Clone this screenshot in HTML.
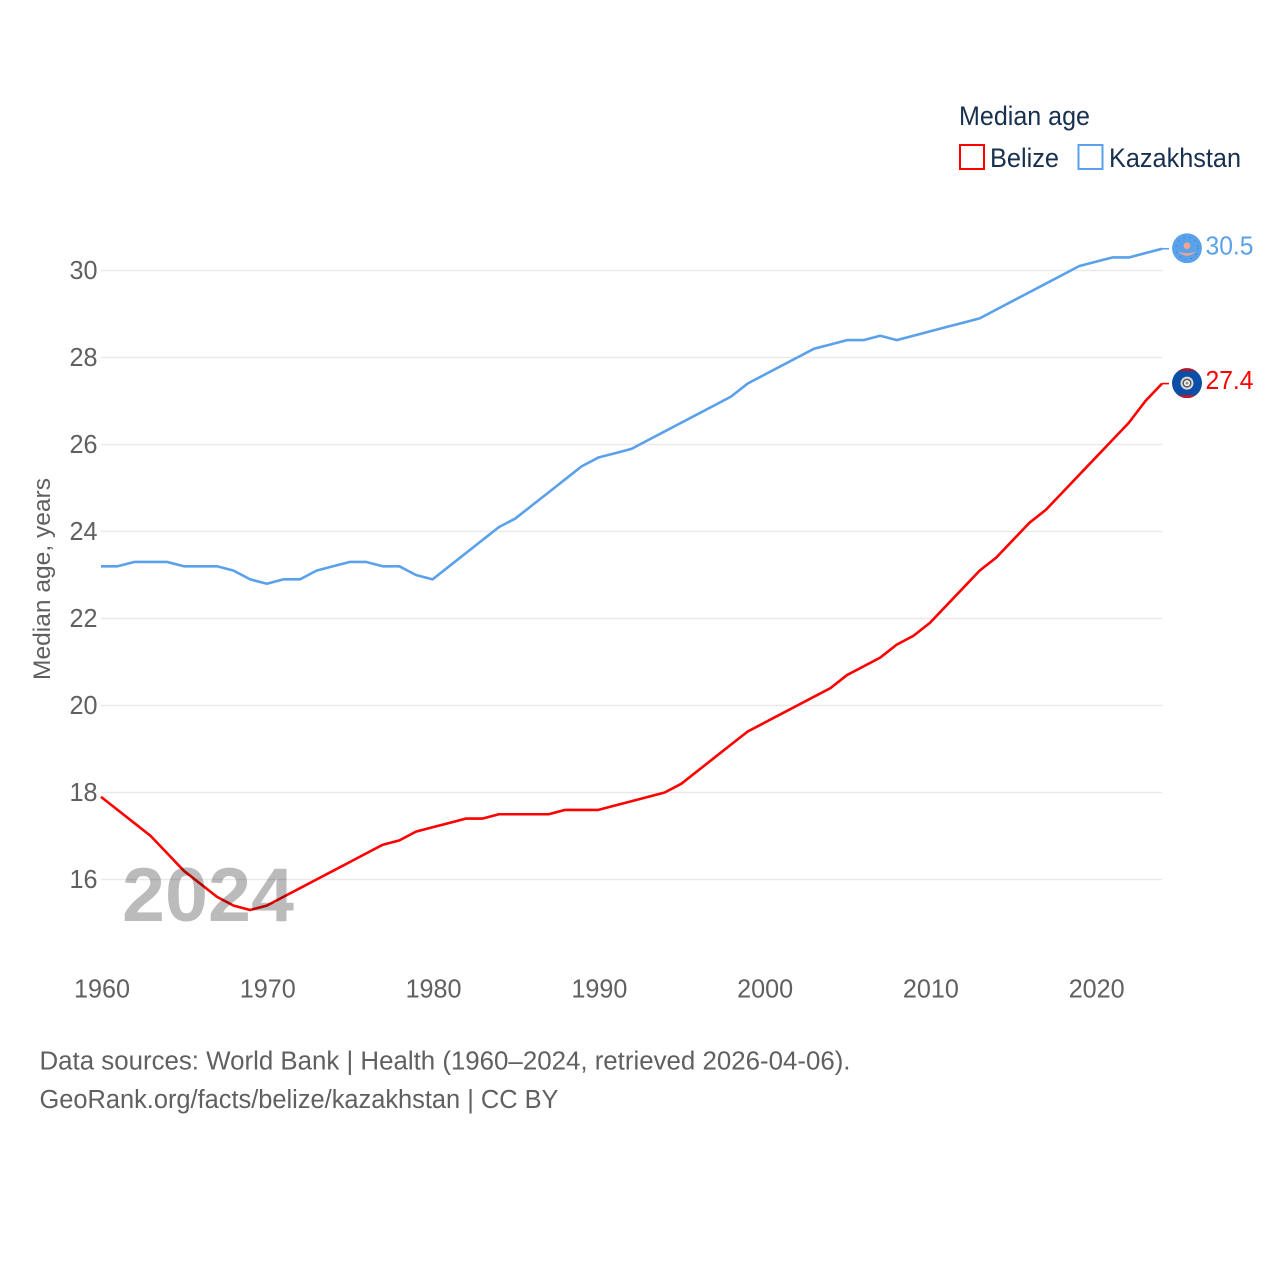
<!DOCTYPE html>
<html lang="en">
<head>
<meta charset="utf-8">
<title>Median age: Belize and Kazakhstan</title>
<style>
html,body{margin:0;padding:0;background:#fff;}
svg{display:block;font-family:"Liberation Sans",sans-serif;}
</style>
</head>
<body>
<svg id="chart" xmlns="http://www.w3.org/2000/svg" width="1280" height="1280" viewBox="0 0 1280 1280">
  <defs>
    <clipPath id="flag-clip"><circle r="15" cx="0" cy="0"/></clipPath>
  </defs>
  <rect x="0" y="0" width="1280" height="1280" fill="#ffffff"/>
  <g id="grid"></g>
  <g id="yticks"></g>
  <g id="xticks"></g>
  <text transform="translate(50,680) rotate(-90)" font-size="24" fill="#606060" textLength="202" lengthAdjust="spacingAndGlyphs">Median age, years</text>
  <g id="series"></g>
  <text id="year-label" x="122" y="921" font-size="76" font-weight="700" fill="#000000" fill-opacity="0.267" textLength="172" lengthAdjust="spacingAndGlyphs">2024</text>
  <g id="ends"></g>
  <g>
    <text x="959" y="125" font-size="26.500" fill="#18304f" textLength="131" lengthAdjust="spacingAndGlyphs">Median age</text>
    <g>
      <rect x="960" y="145" width="24" height="24" fill="#ffffff" stroke="#ff0000" stroke-width="2"/>
      <text x="990" y="167" font-size="26.500" fill="#18304f" textLength="69" lengthAdjust="spacingAndGlyphs">Belize</text>
    </g>
    <g>
      <rect x="1078.500" y="145" width="24" height="24" fill="#ffffff" stroke="#5aa1ec" stroke-width="2"/>
      <text x="1109" y="167" font-size="26.500" fill="#18304f" textLength="132" lengthAdjust="spacingAndGlyphs">Kazakhstan</text>
    </g>
  </g>
  <g>
    <text x="39.500" y="1069.500" font-size="25.500" fill="#606060" textLength="811" lengthAdjust="spacingAndGlyphs">Data sources: World Bank | Health (1960–2024, retrieved 2026-04-06).</text>
    <text x="39.500" y="1108" font-size="25.500" fill="#606060" textLength="519" lengthAdjust="spacingAndGlyphs">GeoRank.org/facts/belize/kazakhstan | CC BY</text>
  </g>
</svg>
<script>
const startYear = 1960;
const belizeValues = [17.9,17.6,17.3,17.0,16.6,16.2,15.9,15.6,15.4,15.3,15.4,15.6,15.8,16.0,16.2,16.4,16.6,16.8,16.9,17.1,17.2,17.3,17.4,17.4,17.5,17.5,17.5,17.5,17.6,17.6,17.6,17.7,17.8,17.9,18.0,18.2,18.5,18.8,19.1,19.4,19.6,19.8,20.0,20.2,20.4,20.7,20.9,21.1,21.4,21.6,21.9,22.3,22.7,23.1,23.4,23.8,24.2,24.5,24.9,25.3,25.7,26.1,26.5,27.0,27.4];
const kazakhstanValues = [23.2,23.2,23.3,23.3,23.3,23.2,23.2,23.2,23.1,22.9,22.8,22.9,22.9,23.1,23.2,23.3,23.3,23.2,23.2,23.0,22.9,23.2,23.5,23.8,24.1,24.3,24.6,24.9,25.2,25.5,25.7,25.8,25.9,26.1,26.3,26.5,26.7,26.9,27.1,27.4,27.6,27.8,28.0,28.2,28.3,28.4,28.4,28.5,28.4,28.5,28.6,28.7,28.8,28.9,29.1,29.3,29.5,29.7,29.9,30.1,30.2,30.3,30.3,30.4,30.5];
const yTickValues = [16,18,20,22,24,26,28,30];
const xTickYears = [1960,1970,1980,1990,2000,2010,2020];

const NS = 'http://www.w3.org/2000/svg';
const RED = '#ff0000';
const BLUE = '#5aa1ec';
function xScale(year){ return 101 + (year - 1960) * (1162 - 101) / 64; }
function yScale(v){ return 270.5 + (30 - v) * (879.5 - 270.5) / 14; }
function make(tag, attrs, parent){
  const el = document.createElementNS(NS, tag);
  for (const k in attrs) el.setAttribute(k, attrs[k]);
  parent.appendChild(el);
  return el;
}
const grid = document.getElementById('grid');
const yticks = document.getElementById('yticks');
const xticks = document.getElementById('xticks');
const series = document.getElementById('series');
const ends = document.getElementById('ends');

yTickValues.forEach(function(v){
  const line = make('line', {x1:101, x2:1162, y1:yScale(v), y2:yScale(v), stroke:'#e9e9e9', 'stroke-width':1.6}, grid);
  
  
  const t = make('text', {x:97.5, y:yScale(v)+8.5, 'text-anchor':'end', 'font-size':26, fill:'#606060', textLength:28, lengthAdjust:'spacingAndGlyphs'}, yticks);
  
  
  t.textContent = String(v);
});
xTickYears.forEach(function(y){
  const t = make('text', {x:xScale(y)+1, y:997.5, 'text-anchor':'middle', 'font-size':26, fill:'#606060', textLength:56, lengthAdjust:'spacingAndGlyphs'}, xticks);
  
  
  t.textContent = String(y);
});
function linePath(values){
  return values.map(function(v,i){
    return (i ? 'L' : 'M') + xScale(startYear + i).toFixed(2) + ' ' + yScale(v).toFixed(2);
  }).join(' ');
}
const belizeLine = make('path', {d:linePath(belizeValues), fill:'none', stroke:RED, 'stroke-width':2.6, 'stroke-linejoin':'round'}, series);


const kazLine = make('path', {d:linePath(kazakhstanValues), fill:'none', stroke:BLUE, 'stroke-width':2.6, 'stroke-linejoin':'round'}, series);



function endYear(values){ return startYear + values.length - 1; }
function connector(values, color){
  const yy = yScale(values[values.length-1]);
  const c = make('line', {x1:xScale(endYear(values)), x2:1169, y1:yy, y2:yy, stroke:color, 'stroke-width':1.6}, ends);
  
  
}
function valueLabel(values, color){
  const last = values[values.length-1];
  const t = make('text', {x:1205.5, y:yScale(last)+5.5, 'font-size':26, fill:color, textLength:48, lengthAdjust:'spacingAndGlyphs'}, ends);
  
  
  t.textContent = last.toFixed(1);
}
connector(belizeValues, RED);
connector(kazakhstanValues, BLUE);
valueLabel(belizeValues, RED);
valueLabel(kazakhstanValues, BLUE);

// Kazakhstan flag marker
const kazY = yScale(kazakhstanValues[kazakhstanValues.length-1]) - 0.5;
const kf = make('g', {transform:'translate(1187,' + kazY + ')', 'clip-path':'url(#flag-clip)'}, ends);


make('circle', {r:15, fill:'#5aa1ec'}, kf);
make('circle', {r:3.4, cy:-2.5, fill:'#f4a58f'}, kf);
make('path', {d:'M-9 3 Q0 12 9 3 Q0 7 -9 3 Z', fill:'#f4a58f'}, kf);
make('circle', {r:11, fill:'none', stroke:'#2e6fb5', 'stroke-width':0.9, 'stroke-dasharray':'1 5'}, kf);

// Belize flag marker
const belY = yScale(belizeValues[belizeValues.length-1]) - 0.5;
const bf = make('g', {transform:'translate(1187,' + belY + ')', 'clip-path':'url(#flag-clip)'}, ends);


make('rect', {x:-15, y:-15, width:30, height:30, fill:'#0a4ea8'}, bf);
make('rect', {x:-15, y:-15, width:30, height:3, fill:'#b01528'}, bf);
make('rect', {x:-15, y:12, width:30, height:3, fill:'#c5182a'}, bf);
make('circle', {r:6.5, fill:'#d9d9d9'}, bf);
make('circle', {r:4.5, fill:'#555555'}, bf);
make('circle', {r:3, fill:'#ffffff'}, bf);
make('circle', {r:1.5, fill:'#9a8a80'}, bf);
</script>
</body>
</html>
